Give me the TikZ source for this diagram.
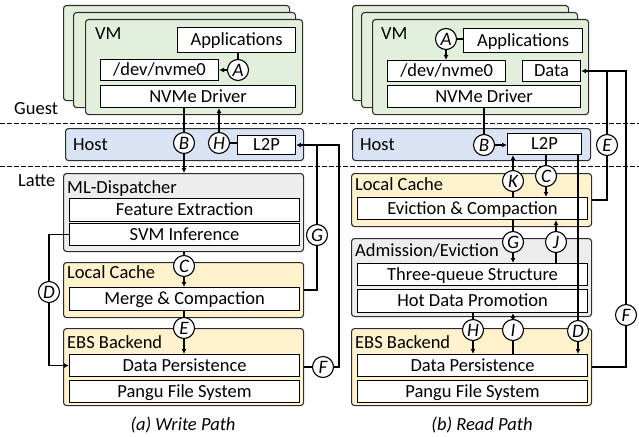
\documentclass[tikz,border=0pt]{standalone}
\usepackage{fontspec}
\setmainfont{Carlito}
\usetikzlibrary{arrows.meta,calc}
\definecolor{cgreen}{RGB}{226,239,218}
\definecolor{cblue}{RGB}{218,227,243}
\definecolor{cgray}{RGB}{237,237,237}
\definecolor{cyellow}{RGB}{255,242,204}
\definecolor{cborder}{RGB}{45,45,45}
\begin{document}
\begin{tikzpicture}[x=1pt,y=-1pt,
  font=\fontsize{18.5}{22}\selectfont,
  grp/.style={draw=cborder, line width=1.1pt, rounded corners=3pt, anchor=north west, inner sep=0pt},
  card/.style={grp, fill=cgreen},
  hostbox/.style={grp, fill=cblue},
  graybox/.style={grp, fill=cgray},
  yelbox/.style={grp, fill=cyellow},
  ibox/.style={draw=black, line width=1.1pt, fill=white, anchor=north west, inner sep=0pt, text height=12pt, text depth=0.5pt},
  lbl/.style={anchor=base west, inner sep=0pt},
  circ/.style={circle, draw=black, line width=1.1pt, fill=white, inner sep=0pt, minimum size=21pt, font=\fontsize{19}{22}\selectfont\itshape},
  conn/.style={line width=1.7pt},
  arr/.style={conn, -{Latex[length=5pt,width=5pt]}},
  sep/.style={line width=0.9pt, dash pattern=on 4.5pt off 2.5pt}
]
\useasboundingbox (0,0) rectangle (639,436);

% separators
\draw[sep] (0,123) -- (639,123);
\draw[sep] (0,166) -- (639,166);
\node[lbl] (guest) at (14,114) {Guest};
\node[lbl] (latte) at (18,186) {Latte};

% ================= LEFT (write path) =================
\node[card, minimum width=226, minimum height=95] (cL1) at (63,5) {};
\node[card, minimum width=222, minimum height=95] (cL2) at (73,12) {};
\node[card, minimum width=217, minimum height=95] (cL3) at (85,19) {};
\node[lbl] (vmL) at (95,40) {VM};
\node[ibox, minimum width=118, minimum height=25] (appL) at (177,27) {Applications};
\node[ibox, minimum width=118, minimum height=21] (devL) at (100,59) {/dev/nvme0};
\node[ibox, minimum width=195, minimum height=22] (nvmeL) at (100,85) {NVMe Driver};

\node[hostbox, minimum width=238, minimum height=32] (hostL) at (65,128) {};
\node[lbl] (hostLt) at (73,150) {Host};
\node[ibox, minimum width=58, minimum height=19] (l2pL) at (237,135) {L2P};

\node[graybox, minimum width=240, minimum height=78] (mldL) at (63,173) {};
\node[lbl] (mldLt) at (67,193) {ML-Dispatcher};
\node[ibox, minimum width=230, minimum height=23] (feL) at (69,198) {Feature Extraction};
\node[ibox, minimum width=230, minimum height=22] (svmL) at (69,223) {SVM Inference};

\node[yelbox, minimum width=240, minimum height=55] (lcL) at (63,262) {};
\node[lbl] (lcLt) at (67,278) {Local Cache};
\node[ibox, minimum width=230, minimum height=23] (mcL) at (69,287) {Merge \& Compaction};

\node[yelbox, minimum width=240, minimum height=77] (ebsL) at (63,328) {};
\node[lbl] (ebsLt) at (67,348) {EBS Backend};
\node[ibox, minimum width=230, minimum height=22] (dpL) at (69,354) {Data Persistence};
\node[ibox, minimum width=230, minimum height=22] (pfL) at (69,380) {Pangu File System};

\node[circ] (AL) at (238,70) {A};
\node[circ] (BL) at (184,143) {B};
\node[circ] (HL) at (219,143) {H};
\node[circ] (CL) at (184,266) {C};
\node[circ] (EL) at (184,328) {E};
\node[circ] (DL) at (49,292) {D};
\node[circ] (GL) at (317,235) {G};
\node[circ] (FL) at (323,367) {F};
\coordinate (fcornL) at (339,367);

\draw[conn] (AL |- appL.south) -- (AL);
\draw[arr] (AL) -- (AL -| devL.east);
\draw[conn] (BL |- nvmeL.south) -- (BL);
\draw[arr] (BL) -- (BL |- mldL.north);
\draw[conn] (HL) -- (HL -| l2pL.west);
\draw[arr] (HL) -- (HL |- nvmeL.south);
\draw[conn] (CL |- mldL.south) -- (CL);
\draw[arr] (CL) -- (CL |- mcL.north);
\draw[conn] (EL |- mcL.south) -- (EL);
\draw[arr] (EL) -- (EL |- dpL.north);
\draw[conn] (svmL.west) -- (DL |- svmL.west) -- (DL);
\draw[arr] (DL) -- (DL |- dpL.west) -- (dpL.west);
\draw[conn] (lcL.east) -- (GL |- lcL.east) -- (GL);
\draw[arr] (GL) -- (GL |- l2pL.east) -- (l2pL.east);
\draw[conn] (ebsL.east) -- (FL);
\draw[conn] (FL) -- (fcornL) -- (fcornL |- l2pL.east) -- (GL |- l2pL.east);

\node (capL) at (183,425) {\itshape (a) Write Path};

% ================= RIGHT (read path) =================
\node[card, minimum width=216, minimum height=95] (cR1) at (352,5) {};
\node[card, minimum width=216, minimum height=95] (cR2) at (361,12) {};
\node[card, minimum width=216, minimum height=95] (cR3) at (372,19) {};
\node[lbl] (vmR) at (381,40) {VM};
\node[ibox, minimum width=119, minimum height=24] (appR) at (463,28) {Applications};
\node[ibox, minimum width=118, minimum height=21] (devR) at (387,60) {/dev/nvme0};
\node[ibox, minimum width=58, minimum height=21] (dataR) at (522,60) {Data};
\node[ibox, minimum width=193, minimum height=22] (nvmeR) at (387,85) {NVMe Driver};

\node[hostbox, minimum width=238, minimum height=32] (hostR) at (352,128) {};
\node[lbl] (hostRt) at (360,150) {Host};
\node[ibox, minimum width=74, minimum height=21] (l2pR) at (507,133) {L2P};

\node[yelbox, minimum width=240, minimum height=53] (lcR) at (351,173) {};
\node[lbl] (lcRt) at (355,190) {Local Cache};
\node[ibox, minimum width=230, minimum height=22] (ecR) at (357,197) {Eviction \& Compaction};

\node[graybox, minimum width=240, minimum height=78] (aeR) at (351,238) {};
\node[lbl] (aeRt) at (355,256) {Admission/Eviction};
\node[ibox, minimum width=230, minimum height=22] (tqR) at (357,263) {Three-queue Structure};
\node[ibox, minimum width=230, minimum height=23] (hdR) at (357,289) {Hot Data Promotion};

\node[yelbox, minimum width=240, minimum height=77] (ebsR) at (351,328) {};
\node[lbl] (ebsRt) at (355,348) {EBS Backend};
\node[ibox, minimum width=230, minimum height=22] (dpR) at (357,354) {Data Persistence};
\node[ibox, minimum width=230, minimum height=22] (pfR) at (357,380) {Pangu File System};

\node[circ] (AR) at (446,39) {A};
\node[circ] (BR) at (484,145) {B};
\node[circ] (ER) at (607,145) {E};
\node[circ] (KR) at (513,181) {K};
\node[circ] (CR) at (546,176) {C};
\node[circ] (GR) at (513,242) {G};
\node[circ] (JR) at (556,242) {J};
\node[circ] (HR) at (473,330) {H};
\node[circ] (IR) at (513,330) {I};
\node[circ] (DR) at (578,331) {D};
\node[circ] (FR) at (626,315) {F};

\draw[conn] (appR.west |- AR) -- (AR);
\draw[arr] (AR) -- (AR |- devR.north);
\draw[conn] (BR |- nvmeR.south) -- (BR);
\draw[arr] (BR) -- (BR -| l2pR.west);
\draw[conn] (KR |- ecR.north) -- (KR);
\draw[arr] (KR) -- (KR |- l2pR.south);
\draw[conn] (CR |- l2pR.south) -- (CR);
\draw[arr] (CR) -- (CR |- ecR.north);
\draw[conn] (GR |- ecR.south) -- (GR);
\draw[arr] (GR) -- (GR |- tqR.north);
\draw[conn] (JR |- tqR.north) -- (JR);
\draw[arr] (JR) -- (JR |- ecR.south);
\draw[conn] (HR |- hdR.south) -- (HR);
\draw[arr] (HR) -- (HR |- dpR.north);
\draw[conn] (IR |- dpR.north) -- (IR);
\draw[arr] (IR) -- (IR |- hdR.south);
\draw[conn] (DR |- l2pR.south) -- (DR);
\draw[arr] (DR) -- (DR |- dpR.north);
\draw[conn] (lcR.east) -- (ER |- lcR.east) -- (ER);
\draw[arr] (ER) -- (ER |- dataR.east) -- (dataR.east);
\draw[conn] (ebsR.east) -- (FR |- ebsR.east) -- (FR);
\draw[conn] (FR) -- (FR |- dataR.east) -- (ER |- dataR.east);

\node (capR) at (482,425) {\itshape (b) Read Path};
\end{tikzpicture}
\end{document}
